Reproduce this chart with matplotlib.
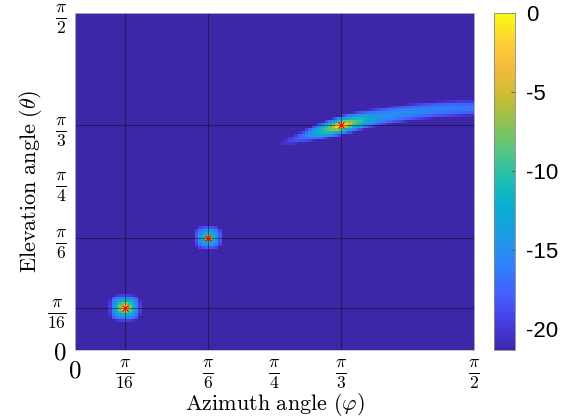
import numpy as np
import matplotlib
matplotlib.use("Agg")
import matplotlib.pyplot as plt
from matplotlib.colors import LinearSegmentedColormap

#%% SETTINGS
plt.rcParams['mathtext.fontset'] = 'cm'
plt.rcParams['axes.unicode_minus'] = False

#%% DATA
# true source directions (rad)
source_az = [np.pi / 16, np.pi / 6, np.pi / 3]
source_el = [np.pi / 16, np.pi / 6, np.pi / 3]
# compact peaks: core / ring / plateau levels (dB) and widths (rad)
blob_level = [0.0, -6.5]
blob_core = [0.009, 0.008]
blob_ring_level = [-8.5, -11.5]
blob_ring = [0.019, 0.017]
blob_plateau_level = [-15.0, -16.0]
blob_plateau = [0.056, 0.050]
# ridge of the third source
ridge_slope = [0.30, -0.28]
ridge_core = [0.016, 0.007]          # along, across
ridge_mid_level = -8.5
ridge_mid = [0.055, 0.016]
ridge_tail_level = [-13.0, -14.5]    # left, right
ridge_tail_len = [0.13, 1.0]
ridge_tail_width = [0.032, 0.035]

tick_pos = [0, np.pi / 16, np.pi / 6, np.pi / 4, np.pi / 3, np.pi / 2]
tick_lab = [r'$0$', r'$\frac{\pi}{16}$', r'$\frac{\pi}{6}$', r'$\frac{\pi}{4}$',
            r'$\frac{\pi}{3}$', r'$\frac{\pi}{2}$']
grid_pos = [np.pi / 16, np.pi / 6, np.pi / 3]
cbar_ticks = [0, -5, -10, -15, -20]
vmin, vmax = -21.3, 0

#%% SPECTRUM MAP (0.75 degree grid)
n = 120
ang = (np.arange(n) + 0.5) * (np.pi / 2) / n
PHI, THETA = np.meshgrid(ang, ang)
P = np.zeros_like(PHI)
for k in range(2):
    dx = PHI - source_az[k]
    dy = THETA - source_el[k]
    d2 = dx ** 2 + dy ** 2
    d_sq = (dx ** 4 + dy ** 4) ** 0.25
    P += 10 ** (blob_level[k] / 10) * np.exp(-d2 / (2 * blob_core[k] ** 2))
    P += 10 ** (blob_ring_level[k] / 10) * np.exp(-d2 / (2 * blob_ring[k] ** 2))
    P += 10 ** (blob_plateau_level[k] / 10) * np.exp(-(d_sq / blob_plateau[k]) ** 4)

s = PHI - source_az[2]
t = THETA - (source_el[2] + ridge_slope[0] * s + ridge_slope[1] * s ** 2)
P += np.exp(-s ** 2 / (2 * ridge_core[0] ** 2) - t ** 2 / (2 * ridge_core[1] ** 2))
P += 10 ** (ridge_mid_level / 10) * np.exp(-s ** 2 / (2 * ridge_mid[0] ** 2)
                                            - t ** 2 / (2 * ridge_mid[1] ** 2))
left = s < 0
tail = np.where(left,
                10 ** (ridge_tail_level[0] / 10) * np.exp(s / ridge_tail_len[0]),
                10 ** (ridge_tail_level[1] / 10) * np.exp(-s / ridge_tail_len[1]))
tw = np.where(left, ridge_tail_width[0], ridge_tail_width[1])
P += tail * np.exp(-(np.abs(t) / tw) ** 2)
spec_db = 10 * np.log10(P / P.max() + 1e-12)

#%% PARULA-LIKE COLORMAP
parula_pts = [
    (0.00, (0.2422, 0.1504, 0.6603)),
    (0.08, (0.2760, 0.2440, 0.8900)),
    (0.16, (0.2730, 0.3680, 0.9900)),
    (0.25, (0.1900, 0.5050, 0.9800)),
    (0.33, (0.1200, 0.6000, 0.9000)),
    (0.42, (0.0300, 0.6800, 0.8300)),
    (0.50, (0.1000, 0.7400, 0.7100)),
    (0.58, (0.3000, 0.7800, 0.5300)),
    (0.67, (0.5500, 0.7600, 0.3300)),
    (0.75, (0.7800, 0.7400, 0.2000)),
    (0.83, (0.9500, 0.7300, 0.2400)),
    (0.90, (0.9900, 0.7900, 0.2200)),
    (1.00, (0.9769, 0.9839, 0.0805)),
]
parula = LinearSegmentedColormap.from_list('parula', parula_pts)

#%% PLOT
fig = plt.figure(figsize=(5.67, 4.18), dpi=100)
ax = fig.add_axes([75 / 567, 68 / 418, 399 / 567, 337 / 418])
cax = fig.add_axes([494 / 567, 68 / 418, 21 / 567, 337 / 418])

im = ax.imshow(spec_db, origin='lower', extent=[0, np.pi / 2, 0, np.pi / 2],
               cmap=parula, vmin=vmin, vmax=vmax, aspect='auto',
               interpolation='nearest')
for g in grid_pos:
    ax.axvline(g, color='#101010', lw=0.8, alpha=0.5)
    ax.axhline(g, color='#101010', lw=0.8, alpha=0.5)
ax.plot(source_az, source_el, 'x', color='red', ms=5, mew=1.0)

ax.set_xlim(0, np.pi / 2)
ax.set_ylim(0, np.pi / 2)
ax.set_xticks(tick_pos)
ax.set_xticklabels(tick_lab, fontsize=18)
ax.set_yticks(tick_pos)
ax.set_yticklabels(tick_lab, fontsize=18)
ax.tick_params(length=0, pad=6)
for sp in ax.spines.values():
    sp.set_color('#bbbbbb')
    sp.set_linewidth(0.6)
ax.set_xlabel(r'$\mathrm{Azimuth\ angle\ }(\varphi)$', fontsize=16, labelpad=0)
ax.set_ylabel(r'$\mathrm{Elevation\ angle\ }(\theta)$', fontsize=16, labelpad=2)

cb = fig.colorbar(im, cax=cax, ticks=cbar_ticks)
cb.ax.set_yticklabels([str(v) for v in cbar_ticks], fontsize=16,
                      family='Liberation Sans')
cb.ax.tick_params(direction='in', length=3, width=0.6, color='#555555', pad=8)
cb.outline.set_edgecolor('#888888')
cb.outline.set_linewidth(0.6)

fig.savefig('out.png', dpi=100)
